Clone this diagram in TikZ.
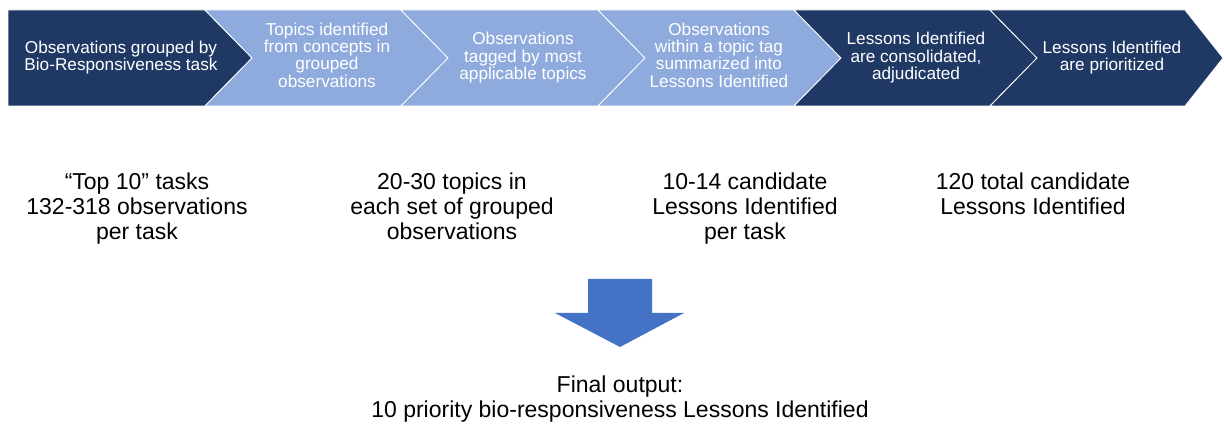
\documentclass[tikz,border=0pt]{standalone}
\usepackage{fontspec}
\setmainfont{Liberation Sans}
\definecolor{navy}{HTML}{203864}
\definecolor{sky}{HTML}{8FAADC}
\definecolor{flowblue}{HTML}{4472C4}
% strut that gives every stage label the same line box
\newcommand\chstrut{\rule[-0.25em]{0pt}{0.97em}}

\begin{document}
\begin{tikzpicture}[x=1pt,y=-1pt,
  band/.style={draw=white, line width=0.8pt, line join=miter},
  stagetext/.style={text=white, align=center, inner sep=0pt,
    font=\fontsize{17.2}{17.3}\selectfont,
    execute at begin node=\chstrut, execute at end node=\chstrut},
  notetext/.style={text=black, align=center, inner sep=0pt, anchor=north,
    font=\fontsize{23}{24.6}\selectfont}]
\useasboundingbox (0,0) rectangle (1224,427);

% process band: one pentagon followed by chevrons
\fill[navy, band] (8,10) -- (205,10) -- (252,58) -- (205,106) -- (8,106) -- cycle;
\fill[sky, band] (205,10) -- (401,10) -- (448,58) -- (401,106) -- (205,106) -- (252,58) -- cycle;
\fill[sky, band] (401,10) -- (598,10) -- (645,58) -- (598,106) -- (401,106) -- (448,58) -- cycle;
\fill[sky, band] (598,10) -- (794,10) -- (841,58) -- (794,106) -- (598,106) -- (645,58) -- cycle;
\fill[navy, band] (794,10) -- (990,10) -- (1037,58) -- (990,106) -- (794,106) -- (841,58) -- cycle;
\fill[navy, band] (990,10) -- (1185,10) -- (1223,58) -- (1185,106) -- (990,106) -- (1037,58) -- cycle;

% stage labels
\node[stagetext] (s1) at (121,58) {Observations grouped by\\Bio-Responsiveness task};
\node[stagetext] (s2) at (327,57) {Topics identified\\from concepts in\\grouped\\observations};
\node[stagetext] (s3) at (523,58) {Observations\\tagged by most\\applicable topics};
\node[stagetext] (s4) at (719,57) {Observations\\within a topic tag\\summarized into\\Lessons Identified};
\node[stagetext] (s5) at (916,58) {Lessons Identified\\are consolidated,\\adjudicated};
\node[stagetext] (s6) at (1112,58) {Lessons Identified\\are prioritized};

% counts below the band
\node[notetext] (n1) at (137,173) {“Top 10” tasks\\132-318 observations\\per task};
\node[notetext] (n2) at (452,173) {20-30 topics in\\each set of grouped\\observations};
\node[notetext] (n3) at (745,173) {10-14 candidate\\Lessons Identified\\per task};
\node[notetext] (n4) at (1033,173) {120 total candidate\\Lessons Identified};

% block arrow down to the result
\fill[flowblue] (588,279) -- (652,279) -- (652,313) -- (684,313) -- (620,347)
  -- (555,313) -- (588,313) -- cycle;

\node[notetext] (out) at (620,376) {Final output:\\10 priority bio-responsiveness Lessons Identified};
\end{tikzpicture}
\end{document}
